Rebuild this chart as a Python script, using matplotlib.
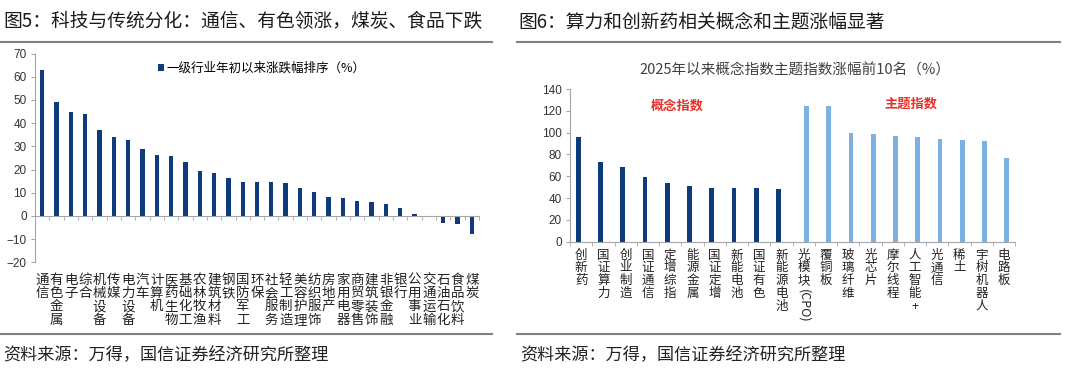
import matplotlib.pyplot as plt
import numpy as np
from matplotlib.lines import Line2D
from matplotlib.transforms import blended_transform_factory

plt.rcParams['font.family'] = ['Noto Sans CJK SC', 'DejaVu Sans']

# ---- data: figure 5 ----
industries = ['通信', '有色金属', '电子', '综合', '机械设备', '传媒', '电力设备', '汽车',
              '计算机', '医药生物', '基础化工', '农林牧渔', '建筑材料', '钢铁', '国防军工',
              '环保', '社会服务', '轻工制造', '美容护理', '纺织服饰', '房地产', '家用电器',
              '商贸零售', '建筑装饰', '非银金融', '银行', '公用事业', '交通运输', '石油石化',
              '食品饮料', '煤炭']
ind_change = [63.0, 49.2, 44.9, 43.8, 36.9, 33.9, 32.7, 28.7, 26.4, 26.0, 23.2, 19.4,
              18.4, 16.2, 14.8, 14.8, 14.5, 14.3, 12.1, 10.5, 8.3, 7.9, 6.5, 5.9, 5.2,
              3.3, 0.9, 0.1, -2.9, -3.4, -7.7]

# ---- data: figure 6 ----
concepts = ['创新药', '国证算力', '创业制造', '国证通信', '定增综指', '能源金属',
            '国证定增', '新能电池', '国证有色', '新能源电池']
concept_change = [96.0, 73.0, 68.5, 59.5, 54.0, 51.5, 49.5, 49.5, 49.5, 48.5]
themes = ['光模块', '覆铜板', '玻璃纤维', '光芯片', '摩尔线程', '人工智能+', '光通信',
          '稀土', '宇树机器人', '电路板']
theme_change = [124.0, 124.0, 100.0, 98.5, 97.3, 96.0, 94.0, 93.0, 92.0, 76.7]

navy = '#0D3B7C'
light = '#7DB1E1'
axcol = '#A6A6A6'
W, H = 1080, 376


def vert(s):
    return '\n'.join(s)


fig = plt.figure(figsize=(10.8, 3.76), dpi=100)

# ---- left chart ----
ax1 = fig.add_axes([35 / W, 1 - 262.4 / H, 444 / W, 208.8 / H])
x1 = np.arange(len(industries))
ax1.bar(x1, ind_change, width=0.3, color=navy, label='一级行业年初以来涨跌幅排序（%）')
ax1.set_xlim(-0.5, len(industries) - 0.5)
ax1.set_ylim(-20, 70)
ax1.set_yticks(range(-20, 71, 10))
for s in ['top', 'right']:
    ax1.spines[s].set_visible(False)
ax1.spines['bottom'].set_position(('data', 0))
ax1.spines['left'].set_color(axcol)
ax1.spines['bottom'].set_color(axcol)
ax1.set_xticks(x1)
ax1.set_xticklabels([vert(s) for s in industries], fontsize=9.7, linespacing=0.93,
                    color='#222222')
ax1.set_xticks(np.arange(-0.5, len(industries)), minor=True)
ax1.tick_params(axis='x', which='major', length=0, pad=41)
ax1.tick_params(axis='x', which='minor', length=3, color=axcol)
ax1.tick_params(axis='y', length=3, color=axcol, labelsize=8.5, labelcolor='#333333', pad=3)
for lbl in ax1.get_yticklabels():
    lbl.set_fontfamily('Liberation Sans')
ax1.legend(loc='center left', bbox_to_anchor=(158 / W, 1 - 68 / H),
           bbox_transform=fig.transFigure, frameon=False, fontsize=9,
           handlelength=0.5, handleheight=0.5, handletextpad=0.2,
           borderpad=0, borderaxespad=0)

# ---- right chart ----
ax2 = fig.add_axes([570 / W, 1 - 241.7 / H, 445 / W, 152.7 / H])
n = len(concepts) + len(themes)
x2 = np.arange(n)
ax2.bar(x2[:len(concepts)] - 0.13, concept_change, width=0.21, color=navy)
ax2.bar(x2[len(concepts):] + 0.13, theme_change, width=0.21, color=light)
ax2.set_xlim(-0.5, n - 0.5)
ax2.set_ylim(0, 140)
ax2.set_yticks(range(0, 141, 20))
for s in ['top', 'right']:
    ax2.spines[s].set_visible(False)
ax2.spines['left'].set_color(axcol)
ax2.spines['bottom'].set_color(axcol)
ax2.set_xticks(x2)
ax2.set_xticklabels([vert(s) for s in concepts + themes], fontsize=9, linespacing=0.98,
                    color='#222222')
ax2.set_xticks(np.arange(-0.5, n), minor=True)
ax2.tick_params(axis='x', which='major', length=0, pad=5)
ax2.tick_params(axis='x', which='minor', length=3, color=axcol)
ax2.tick_params(axis='y', length=3, color=axcol, labelsize=8.5, labelcolor='#333333', pad=3)
for lbl in ax2.get_yticklabels():
    lbl.set_fontfamily('Liberation Sans')
tr = blended_transform_factory(ax2.transData, fig.transFigure)
ax2.text(len(concepts), 1 - 306 / H, '(CPO)', transform=tr, rotation=270,
         ha='center', va='center', fontsize=9, color='#222222')
fig.text(677 / W, 1 - 106 / H, '概念指数', color='#E8302A', fontsize=9.5,
         fontweight='bold', ha='center', va='center')
fig.text(911 / W, 1 - 104 / H, '主题指数', color='#E8302A', fontsize=9.5,
         fontweight='bold', ha='center', va='center')
fig.text(795 / W, 1 - 70 / H, '2025年以来概念指数主题指数涨幅前10名（%）',
         ha='center', va='center', fontsize=10.5, color='#404040')

# ---- frame: titles, rules and sources ----
fig.text(3 / W, 1 - 22 / H, '图5：科技与传统分化：通信、有色领涨，煤炭、食品下跌',
         fontsize=13.5, fontweight='medium', color='#1a1a1a', va='center')
fig.text(518 / W, 1 - 22 / H, '图6：算力和创新药相关概念和主题涨幅显著',
         fontsize=13.5, fontweight='medium', color='#1a1a1a', va='center')
for x0, x1_ in [(0, 492), (517, 1060)]:
    for yy in [42, 334]:
        fig.add_artist(Line2D([x0 / W, x1_ / W], [1 - yy / H] * 2,
                              color='#808080', lw=1.5))
    fig.text((x0 + 3) / W, 1 - 355 / H, '资料来源：万得，国信证券经济研究所整理',
             fontsize=12.3, color='#222222', va='center')

fig.savefig('out.png', dpi=100)
